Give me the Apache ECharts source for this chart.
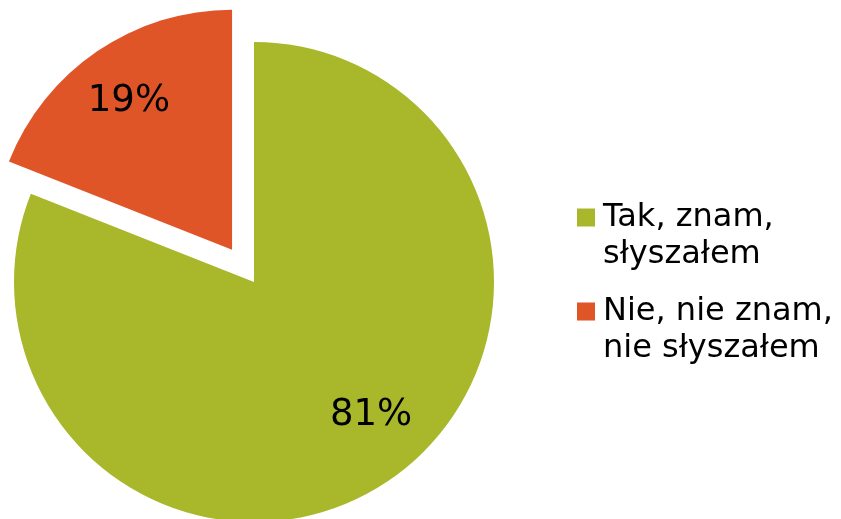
<!DOCTYPE html>
<html>
<head>
<meta charset="utf-8">
<script src="https://cdn.jsdelivr.net/npm/echarts@6/dist/echarts.min.js"></script>
<style>
    html, body { margin: 0; padding: 0; background: #fff; }
    #chart { width: 841px; height: 519px; }
</style>
</head>
<body>
<div id="chart"></div>
<script>
// dane wykresu
const categories = ['Tak, znam,\nsłyszałem', 'Nie, nie znam,\nnie słyszałem'];
const values = [81, 19];
const colors = ['#A8B82A', '#E05528'];
// przesunięcie etykiet procentowych wewnątrz wycinków
const labelOffsets = [[48, 32], [-34, -47]];

const chart = echarts.init(document.getElementById('chart'));

const pieData = categories.map(function (name, i) {
    return {
        name: name,
        value: values[i],
        selected: i === 1,
        itemStyle: { color: colors[i] },
        label: { offset: labelOffsets[i] },
        select: {
            itemStyle: { color: colors[i] },
            label: { offset: labelOffsets[i] }
        }
    };
});

const option = {
    animation: false,
    legend: {
        orient: 'vertical',
        left: 572,
        top: 194,
        itemWidth: 21,
        itemHeight: 55,
        itemGap: 20,
        // kwadrat przy pierwszej linii tekstu (punkt M21,55 tylko poszerza ramkę ikony)
        icon: 'path://M0,0H18V18H0Z M21,55',
        itemStyle: { borderWidth: 0 },
        textStyle: {
            fontFamily: 'DejaVu Sans',
            fontSize: 32,
            lineHeight: 37,
            color: '#000'
        },
        data: categories
    },
    series: [{
        type: 'pie',
        center: [254, 282],
        radius: 240,
        startAngle: 90,
        clockwise: true,
        selectedMode: 'single',
        selectedOffset: 39,
        itemStyle: { borderWidth: 0 },
        label: {
            show: true,
            position: 'inside',
            formatter: '{c}%',
            fontFamily: 'DejaVu Sans',
            fontSize: 37,
            color: '#000'
        },
        labelLine: { show: false },
        emphasis: { disabled: true },
        data: pieData
    }]
};

chart.setOption(option);
</script>
</body>
</html>
